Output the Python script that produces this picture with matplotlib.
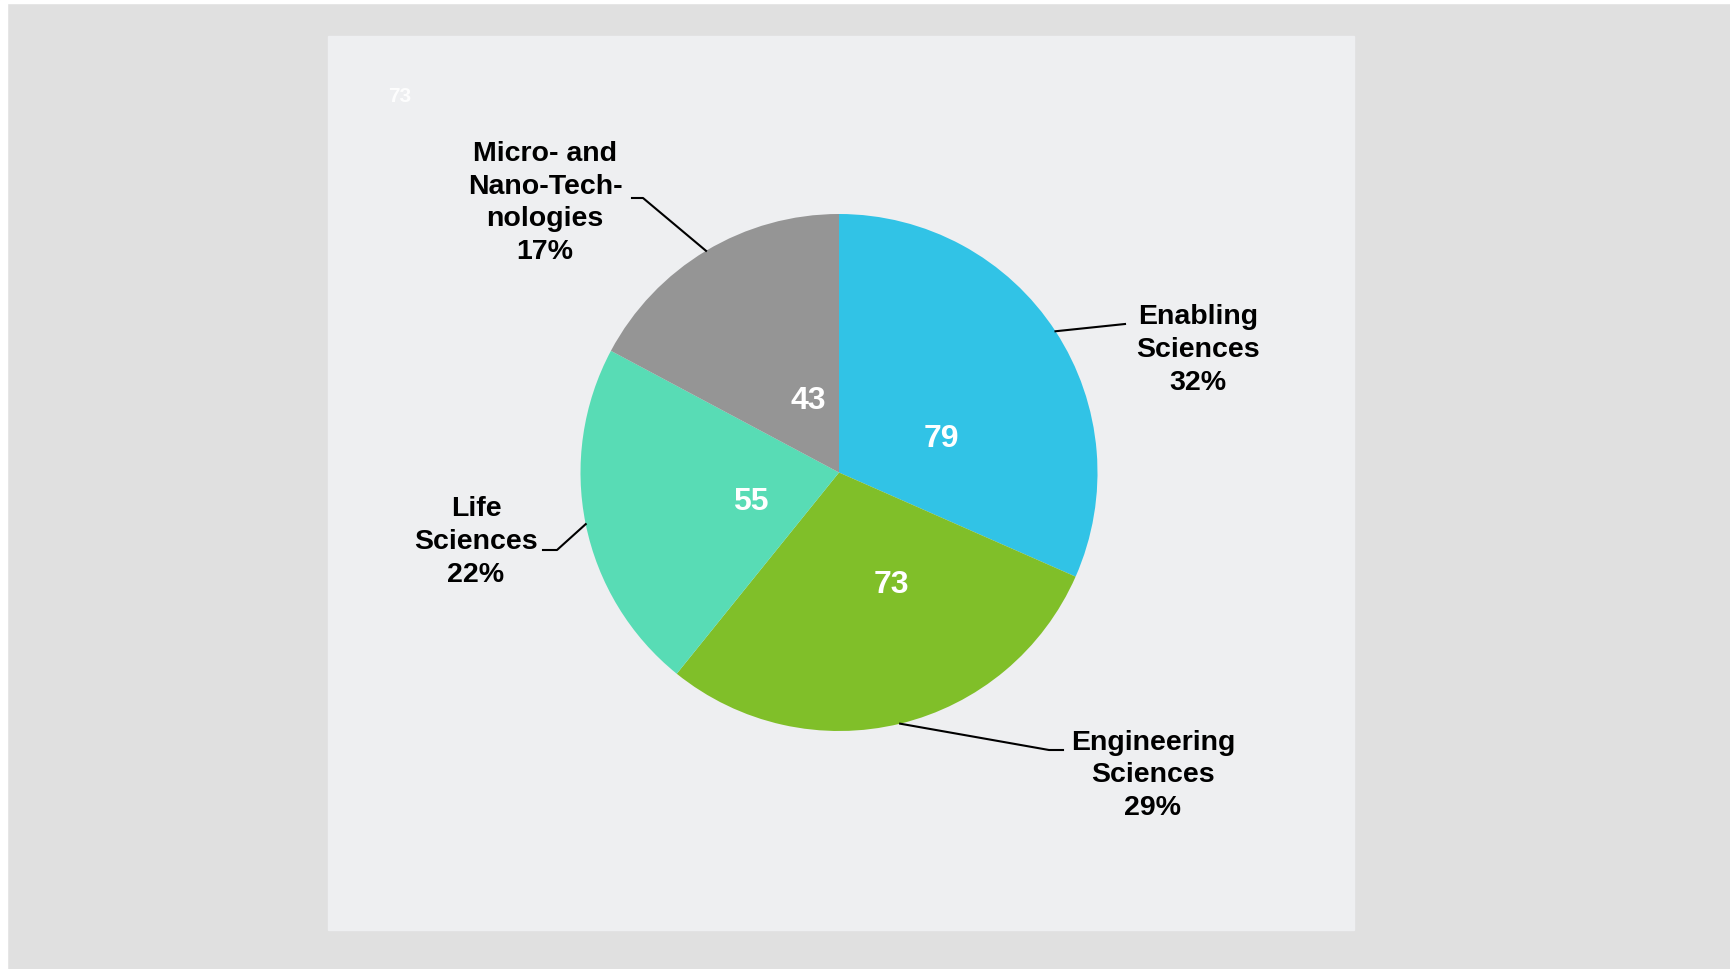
import numpy as np
import matplotlib.pyplot as plt
from matplotlib.patches import Rectangle

# chart data
categories = ["Enabling\nSciences", "Engineering\nSciences", "Life\nSciences",
              "Micro- and\nNano-Tech-\nnologies"]
values = [79, 73, 55, 43]
colors = ["#31c3e6", "#80bf29", "#58dcb5", "#959595"]

W, H = 1731, 969
# layout (pixel coords, y from top)
center = (839, 472.5)
radius = 258.5
num_pos = [(941, 439), (891, 585), (751, 502), (808, 401)]
label_pos = [(1198, 350), (1153, 775.5), (476, 542), (545, 203)]
# leader line bends / ends
leader = [[(1125, 324)],
          [(1049, 750), (1063, 750)],
          [(557, 550), (543, 550)],
          [(643, 198), (632, 198)]]

plt.rcParams['font.family'] = ['Liberation Sans', 'DejaVu Sans']

fig = plt.figure(figsize=(W / 100, H / 100), dpi=100, facecolor="#e0e0e0")
ax = fig.add_axes([0, 0, 1, 1])

def Y(y):
    return H - y

# white edges + panel
ax.add_patch(Rectangle((0, 0), 7, H, color="white", zorder=0))
ax.add_patch(Rectangle((0, Y(3)), W, 3, color="white", zorder=0))
ax.add_patch(Rectangle((328, Y(930)), 1354 - 328, 930 - 36, color="#eeeff1", zorder=0))

wedges, _ = ax.pie(values, colors=colors, startangle=90, counterclock=False,
                   center=(center[0], Y(center[1])), radius=radius, frame=True,
                   wedgeprops=dict(linewidth=0))
ax.set_xlim(0, W)
ax.set_ylim(0, H)
ax.set_aspect("equal")
ax.axis("off")

total = sum(values)
for i, w in enumerate(wedges):
    mid = np.radians((w.theta1 + w.theta2) / 2)
    px = center[0] + radius * np.cos(mid)
    py = Y(center[1]) + radius * np.sin(mid)
    xs = [px] + [p[0] for p in leader[i]]
    ys = [py] + [Y(p[1]) for p in leader[i]]
    ax.plot(xs, ys, color="black", lw=1.5, zorder=3)
    pct = round(values[i] / total * 100)
    ax.text(label_pos[i][0], Y(label_pos[i][1]), f"{categories[i]}\n{pct}%",
            ha="center", va="center", multialignment="center",
            fontsize=20.5, fontweight="bold", linespacing=1.33, color="black")
    ax.text(num_pos[i][0], Y(num_pos[i][1]), str(values[i]), ha="center", va="center",
            fontsize=23, fontweight="bold", color="white")

ax.text(400, Y(96), "73", ha="center", va="center", fontsize=15, fontweight="bold",
        color="white", alpha=0.9)

fig.savefig("out.png", dpi=100, facecolor=fig.get_facecolor())
